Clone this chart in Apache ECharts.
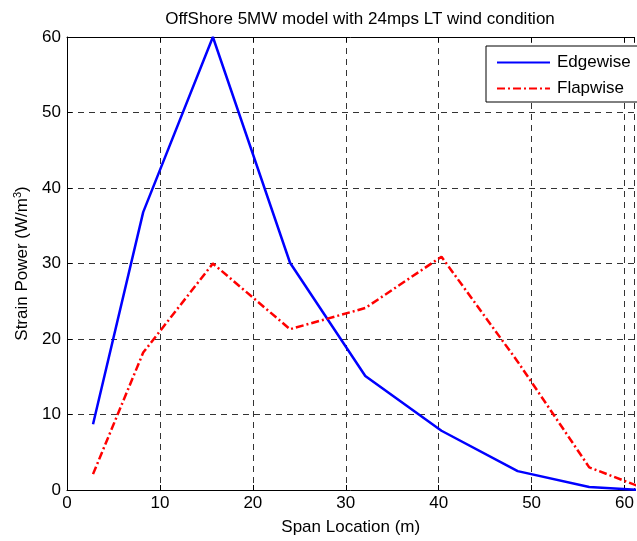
<!DOCTYPE html>
<html><head><meta charset="utf-8">
<script src="https://cdn.jsdelivr.net/npm/echarts@6/dist/echarts.min.js"></script>
<style>html,body{margin:0;padding:0;background:#fff}#c{width:637px;height:541px}</style>
</head><body><div id="c"></div>
<script>
const spanX = [2.8, 8.2, 15.7, 24.0, 32.1, 40.3, 48.5, 56.2, 61.5];
const edgewise = [8.7, 36.8, 60.0, 30.1, 15.1, 7.85, 2.5, 0.4, 0.0];
const flapwise = [2.1, 18.2, 30.0, 21.3, 24.1, 30.9, 17.0, 3.0, 0.5];
const xTicks = [0, 10, 20, 30, 40, 50, 60];
const yTicks = [0, 10, 20, 30, 40, 50, 60];

const font = 'Liberation Sans, Arial, sans-serif';
const FS = 17;
const chart = echarts.init(document.getElementById('c'), null, {renderer: 'canvas'});
const pair = a => spanX.map((x, i) => [x, a[i]]);
chart.setOption({
  animation: false,
  title: {
    text: 'OffShore 5MW model with 24mps LT wind condition',
    left: 355, top: 6, textAlign: 'center',
    textStyle: {fontFamily: font, fontSize: FS, fontWeight: 'normal', color: '#000'}
  },
  legend: {
    left: 486, top: 46,
    orient: 'vertical',
    itemWidth: 53, itemHeight: 12, itemGap: 9,
    backgroundColor: '#fff',
    borderColor: '#000', borderWidth: 1, borderRadius: 0,
    padding: [8, 30, 5, 10],
    itemStyle: {opacity: 0},
    textStyle: {fontFamily: font, fontSize: FS, color: '#000', lineHeight: 14, padding: [0, 0, 0, 2]},
    data: ['Edgewise', 'Flapwise']
  },
  grid: {left: 67, top: 37, width: 570, height: 456, show: false, containLabel: false},
  xAxis: [{
    type: 'value', min: 0, max: 61.07, interval: 10,
    name: 'Span Location (m)', nameLocation: 'middle', nameGap: 29,
    nameTextStyle: {fontFamily: font, fontSize: FS, color: '#000'},
    axisLine: {show: true, lineStyle: {color: '#000'}},
    axisTick: {show: true, inside: true, length: 5, lineStyle: {color: '#000'}},
    axisLabel: {fontFamily: font, fontSize: FS, color: '#000', margin: 5, showMaxLabel: false,
      formatter: v => xTicks.includes(v) ? String(v) : ''},
    splitLine: {show: true, lineStyle: {color: '#333', type: [6, 5], width: 1}}
  }, {
    type: 'value', min: 0, max: 61.07, interval: 10, position: 'top',
    axisLine: {show: true, lineStyle: {color: '#000'}},
    axisTick: {show: true, inside: true, length: 5, lineStyle: {color: '#000'}},
    axisLabel: {show: false}, splitLine: {show: false}
  }],
  yAxis: [{
    type: 'value', min: 0, max: 60, interval: 10,
    name: 'Strain Power (W/m{sup|3})', nameLocation: 'middle', nameGap: 34, nameRotate: 90,
    nameTextStyle: {fontFamily: font, fontSize: FS, color: '#000',
      rich: {sup: {fontFamily: font, fontSize: 11, color: '#000', verticalAlign: 'bottom', padding: [0, 0, 9, 0]}}},
    axisLine: {show: true, lineStyle: {color: '#000'}},
    axisTick: {show: true, inside: true, length: 5, lineStyle: {color: '#000'}},
    axisLabel: {fontFamily: font, fontSize: FS, color: '#000', margin: 6,
      formatter: v => yTicks.includes(v) ? String(v) : ''},
    splitLine: {show: true, lineStyle: {color: '#333', type: [6, 5], width: 1}}
  }],
  series: [{
    name: 'Edgewise', type: 'line', data: pair(edgewise),
    symbol: 'none', color: '#0000ff',
    lineStyle: {color: '#0000ff', width: 2.5}, clip: true
  }, {
    name: 'Flapwise', type: 'line', data: pair(flapwise),
    symbol: 'none', color: '#ff0000',
    lineStyle: {color: '#ff0000', width: 2.5, type: [8, 3, 2, 3]}, clip: true
  }]
});
</script></body></html>
